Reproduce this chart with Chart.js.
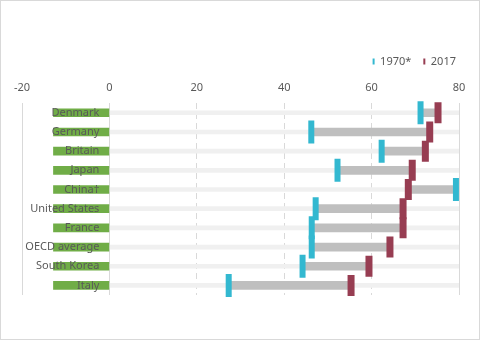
<!DOCTYPE html>
<html>
<head>
<meta charset="utf-8">
<script src="https://cdn.jsdelivr.net/npm/chart.js@4/dist/chart.umd.min.js"></script>
<style>
  html, body { margin: 0; padding: 0; background: #fff; }
  #wrap { width: 480px; height: 340px; box-sizing: border-box; border: 1px solid #d9d9d9; }
  canvas { display: block; }
</style>
</head>
<body>
<div id="wrap"><canvas id="c" width="478" height="338"></canvas></div>
<script>
// ---- data ----
const countries = ['Denmark', 'Germany', 'Britain', 'Japan', 'China†', 'United States', 'France', 'OECD average', 'South Korea', 'Italy'];
const v1970 = [71.2, 46.2, 62.3, 52.2, 79.3, 47.2, 46.3, 46.3, 44.2, 27.3];
const v2017 = [75.2, 73.3, 72.3, 69.3, 68.4, 67.2, 67.2, 64.2, 59.4, 55.3];
const xTicks = [-20, 0, 20, 40, 60, 80];
const seriesNames = ['1970*', '2017'];
const labelBand = [-12.8, 0];
const trackRange = [0, 80];

const COL_1970 = '#33b8d0';
const COL_2017 = '#973d52';
const TXT = '#595959';
const FONT = "'Noto Sans', 'Open Sans', sans-serif";

const ranges = countries.map((c, i) => [v1970[i], v2017[i]]);

const legendShift = {
  id: 'legendShift',
  afterLayout(chart) {
    const lg = chart.legend;
    if (lg) { lg.left += 9; lg.right += 9; lg.top += 5; lg.bottom += 5; }
  }
};

new Chart(document.getElementById('c'), {
  data: {
    labels: countries,
    datasets: [
      { type: 'bar', label: 'track', data: countries.map(() => trackRange), backgroundColor: '#f0f0f0', barThickness: 4, grouped: false, order: 4 },
      { type: 'bar', label: 'band', data: countries.map(() => labelBand), backgroundColor: '#70ad47', barThickness: 8, grouped: false, order: 3 },
      { type: 'bar', label: 'range', data: ranges, backgroundColor: '#bfbfbf', barThickness: 8, grouped: false, order: 2 },
      { type: 'line', label: seriesNames[0], data: v1970, showLine: false, pointStyle: 'line', pointRotation: 90, pointRadius: 11.5, pointHoverRadius: 11.5, borderColor: COL_1970, backgroundColor: COL_1970, pointBorderWidth: 6, pointHoverBorderWidth: 6, order: 1 },
      { type: 'line', label: seriesNames[1], data: v2017, showLine: false, pointStyle: 'line', pointRotation: 90, pointRadius: 10.5, pointHoverRadius: 10.5, borderColor: COL_2017, backgroundColor: COL_2017, pointBorderWidth: 7, pointHoverBorderWidth: 7, order: 0 }
    ]
  },
  plugins: [legendShift],
  options: {
    indexAxis: 'y',
    responsive: false,
    animation: false,
    events: [],
    layout: { padding: { left: 21, right: 20, top: 38, bottom: 44 } },
    plugins: {
      tooltip: { enabled: false },
      legend: {
        position: 'top',
        align: 'end',
        labels: {
          boxWidth: 2,
          boxHeight: 6,
          padding: 12,
          color: TXT,
          font: { family: FONT, size: 11 },
          generateLabels: (chart) => seriesNames.map((name, k) => ({
            text: name,
            fillStyle: k === 0 ? COL_1970 : COL_2017,
            strokeStyle: k === 0 ? COL_1970 : COL_2017,
            lineWidth: 0,
            fontColor: TXT,
            datasetIndex: 3 + k
          }))
        }
      }
    },
    scales: {
      x: {
        type: 'linear',
        position: 'top',
        min: xTicks[0],
        max: xTicks[xTicks.length - 1],
        afterBuildTicks: (scale) => { scale.ticks = xTicks.map(v => ({ value: v })); },
        grid: {
          color: '#d9d9d9',
          lineWidth: 1,
          drawTicks: false
        },
        border: {
          display: false,
          dash: (ctx) => (ctx.tick && ctx.tick.value > 0 && ctx.tick.value < 80) ? [6, 4] : []
        },
        ticks: { color: TXT, font: { family: FONT, size: 11 }, padding: 9 }
      },
      y: {
        type: 'category',
        position: { x: -2.3 },
        offset: true,
        grid: { display: false, drawTicks: false },
        border: { display: false },
        ticks: { color: TXT, font: { family: FONT, size: 11 }, padding: 0, z: 1 }
      }
    }
  }
});
</script>
</body>
</html>
